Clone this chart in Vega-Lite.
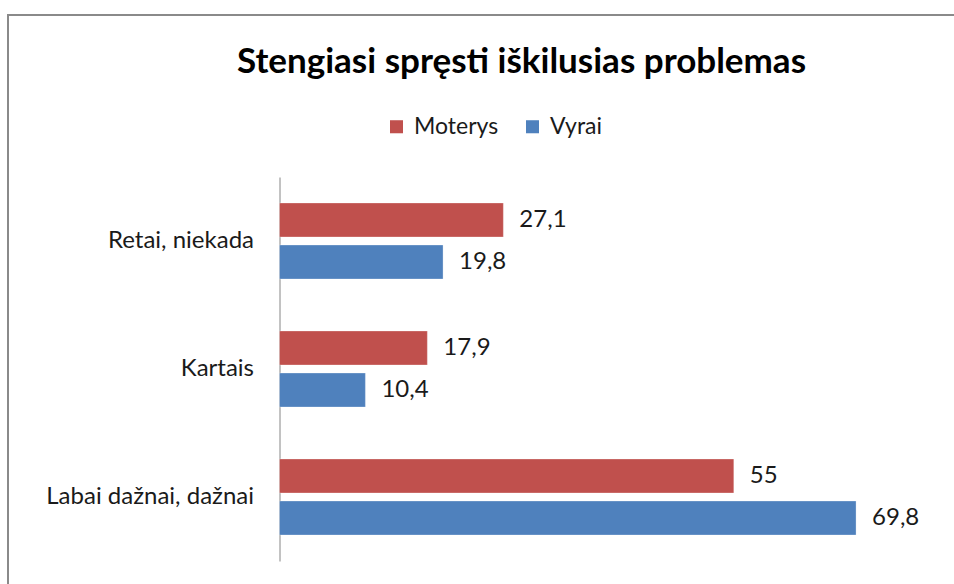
{
  "$schema": "https://vega.github.io/schema/vega-lite/v6.json",
  "autosize": "none",
  "padding": {"left": 8, "top": 15, "right": -3, "bottom": -3},
  "width": 949,
  "height": 572,
  "background": "white",
  "config": {
    "font": "Lato",
    "view": {"stroke": "#8a8a8a", "strokeWidth": 2},
    "locale": {"number": {"decimal": ",", "thousands": " ", "grouping": [3], "currency": ["", " €"]}}
  },
  "title": {
    "text": "Stengiasi spręsti iškilusias problemas",
    "font": "Lato",
    "fontSize": 35,
    "fontWeight": "bold",
    "color": "#000000",
    "anchor": "middle",
    "frame": "group",
    "dx": 39,
    "offset": -65
  },
  "data": {
    "values": [
      {"cat": "Retai, niekada", "sex": "Moterys", "value": 27.1},
      {"cat": "Retai, niekada", "sex": "Vyrai", "value": 19.8},
      {"cat": "Kartais", "sex": "Moterys", "value": 17.9},
      {"cat": "Kartais", "sex": "Vyrai", "value": 10.4},
      {"cat": "Labai dažnai, dažnai", "sex": "Moterys", "value": 55},
      {"cat": "Labai dažnai, dažnai", "sex": "Vyrai", "value": 69.8}
    ]
  },
  "encoding": {
    "y": {
      "field": "cat",
      "type": "nominal",
      "sort": ["Retai, niekada", "Kartais", "Labai dažnai, dažnai"],
      "scale": {"range": [162, 546], "paddingInner": 0.406, "paddingOuter": 0.203},
      "axis": {
        "title": null,
        "offset": -271.5,
        "ticks": false,
        "domainColor": "#868686",
        "domainWidth": 1,
        "labelPadding": 26,
        "labelLimit": 0,
        "labelFont": "Lato",
        "labelFontSize": 24,
        "labelColor": "#1a1a1a",
        "grid": false
      }
    },
    "yOffset": {
      "field": "sex",
      "type": "nominal",
      "sort": ["Moterys", "Vyrai"],
      "scale": {"paddingInner": 0.19, "paddingOuter": 0}
    },
    "x": {
      "field": "value",
      "type": "quantitative",
      "scale": {"domain": [0, 80], "range": [271.5, 932.3]},
      "axis": null
    }
  },
  "layer": [
    {
      "mark": {"type": "bar", "stroke": "white", "strokeWidth": 0.5, "strokeOpacity": 0.6},
      "encoding": {
        "color": {
          "field": "sex",
          "type": "nominal",
          "sort": ["Moterys", "Vyrai"],
          "scale": {"domain": ["Moterys", "Vyrai"], "range": ["#C0504D", "#4F81BD"]},
          "legend": {
            "title": null,
            "orient": "none",
            "direction": "horizontal",
            "legendX": 377,
            "legendY": 100,
            "symbolType": "square",
            "symbolSize": 170,
            "symbolStrokeWidth": 0,
            "labelFont": "Lato",
            "labelFontSize": 23,
            "labelColor": "#1a1a1a",
            "labelOffset": 6,
            "columnPadding": 22
          }
        }
      }
    },
    {
      "mark": {"type": "text", "align": "left", "baseline": "middle", "dx": 16, "font": "Lato", "fontSize": 24, "color": "#1a1a1a"},
      "encoding": {
        "text": {"field": "value", "type": "quantitative", "format": ".1~f"}
      }
    }
  ]
}
